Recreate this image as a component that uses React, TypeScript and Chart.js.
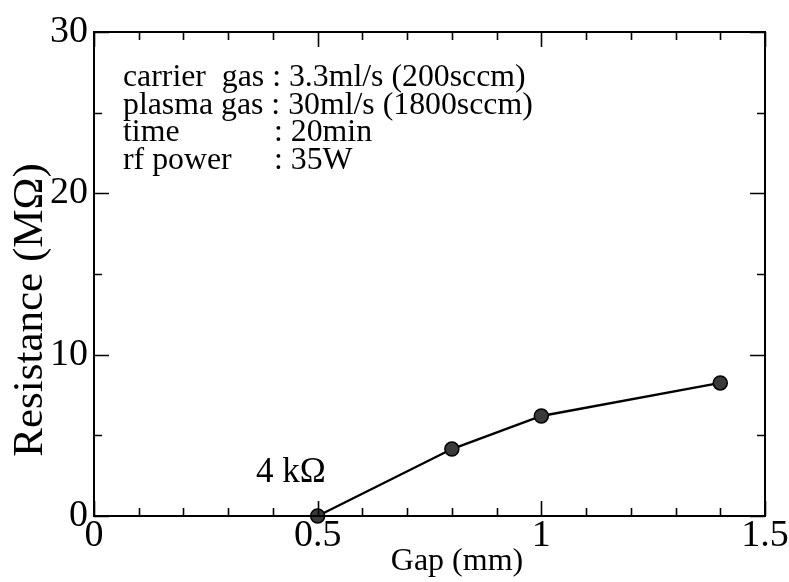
import React, { useEffect, useRef } from "react";
import { Chart, registerables } from "chart.js";

Chart.register(...registerables);

const gapMm = [0.5, 0.8, 1.0, 1.4];
const resistanceMOhm = [0, 4.15, 6.2, 8.25];
const xTickValues = [0, 0.5, 1, 1.5];
const yTickValues = [0, 10, 20, 30];
const conditionLabels = [
  "carrier  gas : 3.3ml/s (200sccm)",
  "plasma gas : 30ml/s (1800sccm)",
  "time",
  "rf power",
];
const conditionValues = ["", "", ": 20min", ": 35W"];
const annotationText = "4 k\u03A9";
const xTitle = "Gap (mm)";
const yTitle = "Resistance (M\u03A9)";

const SERIF = "'Liberation Serif', 'DejaVu Serif', serif";

const framePlugin = {
  id: "frameAndTicks",
  afterDraw(chart: any) {
    const ctx = chart.ctx as CanvasRenderingContext2D;
    const xs = chart.scales.x;
    const ys = chart.scales.y;
    const { left, right, top, bottom } = chart.chartArea;
    ctx.save();
    ctx.strokeStyle = "#000";
    ctx.lineWidth = 2;
    ctx.strokeRect(left, top, right - left, bottom - top);
    ctx.lineWidth = 1.6;
    for (let i = 0; i <= 15; i++) {
      const v = i / 10;
      const px = Math.round(xs.getPixelForValue(v)) + 0.5;
      const len = i % 5 === 0 ? 15 : 8;
      ctx.beginPath();
      ctx.moveTo(px, bottom);
      ctx.lineTo(px, bottom - len);
      ctx.moveTo(px, top);
      ctx.lineTo(px, top + len);
      ctx.stroke();
    }
    for (let i = 0; i <= 6; i++) {
      const v = i * 5;
      const py = Math.round(ys.getPixelForValue(v)) + 0.5;
      const len = i % 2 === 0 ? 15 : 8;
      ctx.beginPath();
      ctx.moveTo(left, py);
      ctx.lineTo(left + len, py);
      ctx.moveTo(right, py);
      ctx.lineTo(right - len, py);
      ctx.stroke();
    }
    ctx.fillStyle = "#000";
    ctx.font = `31.8px ${SERIF}`;
    ctx.textAlign = "left";
    ctx.textBaseline = "alphabetic";
    const startX = 123;
    const baseY = 86;
    const lineH = 27.7;
    conditionLabels.forEach((t, i) => {
      ctx.fillText(t, startX, baseY + i * lineH);
      if (conditionValues[i]) ctx.fillText(conditionValues[i], 274, baseY + i * lineH);
    });
    ctx.font = `35px ${SERIF}`;
    ctx.textAlign = "center";
    ctx.fillText(annotationText, 291, 482);
    ctx.font = `32px ${SERIF}`;
    ctx.fillText(xTitle, 457, 570);
    ctx.save();
    ctx.translate(42, 310);
    ctx.rotate(-Math.PI / 2);
    ctx.font = `43px ${SERIF}`;
    ctx.fillText(yTitle, 0, 0);
    ctx.restore();
    ctx.restore();
  },
};

export default function App() {
  const ref = useRef<HTMLCanvasElement | null>(null);
  useEffect(() => {
    if (!ref.current) return;
    const chart = new Chart(ref.current, {
      type: "line",
      data: {
        datasets: [
          {
            data: gapMm.map((x, i) => ({ x, y: resistanceMOhm[i] })),
            borderColor: "#000",
            borderWidth: 2.4,
            pointRadius: 7,
            pointBackgroundColor: "#3a3a3a",
            pointBorderColor: "#000",
            pointBorderWidth: 1.5,
            tension: 0,
            clip: false as any,
          },
        ],
      },
      options: {
        animation: false,
        responsive: false,
        layout: { padding: { left: 0, top: 32, right: 24, bottom: 0 } },
        plugins: { legend: { display: false }, tooltip: { enabled: false } },
        scales: {
          x: {
            type: "linear",
            min: 0,
            max: 1.5,
            afterBuildTicks: (s: any) => {
              s.ticks = xTickValues.map((v) => ({ value: v }));
            },
            afterFit: (s: any) => {
              s.height = 66;
              s.paddingLeft = 0;
              s.paddingRight = 0;
            },
            grid: { display: false, drawTicks: false },
            border: { display: false },
            ticks: {
              color: "#000",
              font: { family: SERIF, size: 38 },
              padding: -3,
              maxRotation: 0,
              autoSkip: false,
              callback: (v: any) => String(v),
            },
          },
          y: {
            type: "linear",
            min: 0,
            max: 30,
            afterBuildTicks: (s: any) => {
              s.ticks = yTickValues.map((v) => ({ value: v }));
            },
            afterFit: (s: any) => {
              s.width = 94;
              s.paddingTop = 0;
              s.paddingBottom = 0;
            },
            grid: { display: false, drawTicks: false },
            border: { display: false },
            ticks: {
              color: "#000",
              font: { family: SERIF, size: 38 },
              padding: 6,
              autoSkip: false,
              callback: (v: any) => String(v),
            },
          },
        },
      },
      plugins: [framePlugin],
    });
    return () => chart.destroy();
  }, []);
  return (
    <div style={{ position: "fixed", left: 0, top: 0, width: 789, height: 582, background: "#fff" }}>
      <canvas ref={ref} width={789} height={582} style={{ display: "block" }} />
    </div>
  );
}
